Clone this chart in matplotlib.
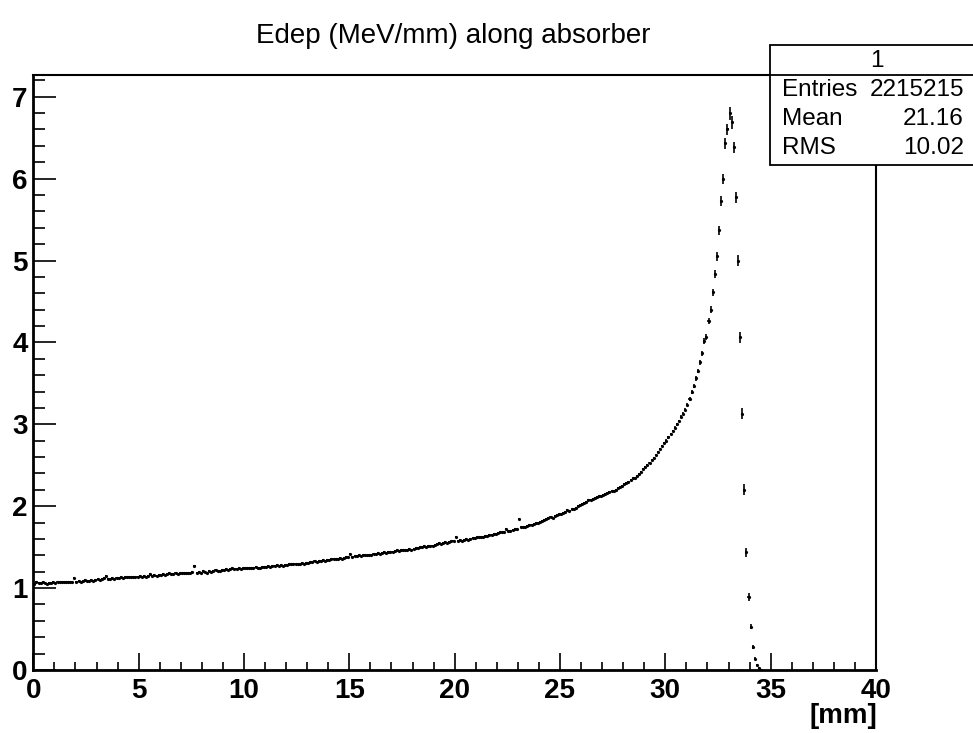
import numpy as np
import matplotlib.pyplot as plt
from matplotlib.patches import Rectangle
from matplotlib.ticker import MultipleLocator

plt.rcParams['font.family'] = ['Liberation Sans', 'DejaVu Sans']

# histogram: 400 bins of 0.1 mm from 0 to 40 mm, only non-empty bins listed
bin_width = 0.1
edep = [
    1.05, 1.07, 1.06, 1.06, 1.07, 1.06, 1.05, 1.06, 1.06, 1.07,
    1.06, 1.07, 1.07, 1.08, 1.07, 1.08, 1.07, 1.08, 1.08, 1.12,
    1.08, 1.09, 1.08, 1.09, 1.10, 1.09, 1.09, 1.10, 1.09, 1.10,
    1.11, 1.10, 1.11, 1.12, 1.15, 1.11, 1.11, 1.12, 1.11, 1.12,
    1.12, 1.13, 1.12, 1.13, 1.13, 1.14, 1.13, 1.14, 1.13, 1.14,
    1.15, 1.14, 1.15, 1.14, 1.15, 1.17, 1.15, 1.16, 1.15, 1.16,
    1.16, 1.17, 1.16, 1.17, 1.18, 1.17, 1.17, 1.18, 1.17, 1.18,
    1.18, 1.19, 1.18, 1.19, 1.19, 1.20, 1.27, 1.19, 1.20, 1.19,
    1.21, 1.20, 1.19, 1.21, 1.20, 1.21, 1.22, 1.21, 1.21, 1.22,
    1.22, 1.23, 1.22, 1.23, 1.24, 1.23, 1.23, 1.24, 1.23, 1.24,
    1.24, 1.25, 1.24, 1.25, 1.25, 1.26, 1.25, 1.25, 1.26, 1.26,
    1.26, 1.27, 1.26, 1.27, 1.27, 1.28, 1.27, 1.28, 1.27, 1.28,
    1.28, 1.29, 1.29, 1.30, 1.29, 1.30, 1.30, 1.31, 1.30, 1.31,
    1.31, 1.32, 1.32, 1.33, 1.32, 1.33, 1.33, 1.34, 1.33, 1.34,
    1.34, 1.35, 1.35, 1.36, 1.36, 1.37, 1.36, 1.37, 1.38, 1.38,
    1.42, 1.38, 1.39, 1.39, 1.40, 1.39, 1.40, 1.41, 1.40, 1.41,
    1.41, 1.42, 1.42, 1.43, 1.42, 1.43, 1.44, 1.43, 1.44, 1.44,
    1.44, 1.45, 1.46, 1.45, 1.46, 1.47, 1.46, 1.47, 1.48, 1.47,
    1.48, 1.49, 1.49, 1.50, 1.50, 1.51, 1.50, 1.51, 1.52, 1.52,
    1.53, 1.54, 1.55, 1.54, 1.55, 1.56, 1.55, 1.56, 1.57, 1.57,
    1.63, 1.58, 1.59, 1.58, 1.59, 1.60, 1.59, 1.60, 1.61, 1.61,
    1.62, 1.62, 1.63, 1.63, 1.64, 1.64, 1.65, 1.65, 1.66, 1.66,
    1.67, 1.68, 1.68, 1.69, 1.72, 1.70, 1.70, 1.71, 1.72, 1.72,
    1.84, 1.74, 1.75, 1.75, 1.76, 1.77, 1.77, 1.78, 1.79, 1.80,
    1.81, 1.82, 1.83, 1.84, 1.85, 1.87, 1.86, 1.88, 1.89, 1.90,
    1.91, 1.92, 1.93, 1.95, 1.94, 1.96, 1.97, 1.98, 2.00, 2.01,
    2.03, 2.04, 2.05, 2.07, 2.08, 2.09, 2.10, 2.11, 2.12, 2.13,
    2.14, 2.15, 2.16, 2.17, 2.18, 2.19, 2.20, 2.22, 2.23, 2.25,
    2.27, 2.28, 2.30, 2.32, 2.34, 2.35, 2.37, 2.39, 2.42, 2.45,
    2.48, 2.50, 2.53, 2.56, 2.59, 2.62, 2.66, 2.70, 2.74, 2.77,
    2.80, 2.84, 2.88, 2.92, 2.96, 3.00, 3.04, 3.09, 3.13, 3.18,
    3.24, 3.31, 3.39, 3.47, 3.56, 3.65, 3.76, 3.87, 4.02, 4.07,
    4.26, 4.40, 4.61, 4.84, 5.05, 5.37, 5.73, 6.00, 6.43, 6.60,
    6.80, 6.69, 6.38, 5.77, 5.00, 4.06, 3.13, 2.20, 1.44, 0.89,
    0.53, 0.28, 0.14, 0.06, 0.02, 0.005,
]
# error bars of the bins from 30.0 mm on; bins before use body_err
body_err = 0.010
peak_err = [
    0.015, 0.015, 0.016, 0.016, 0.017, 0.018, 0.018, 0.019, 0.020, 0.020,
    0.022, 0.023, 0.024, 0.025, 0.026, 0.028, 0.030, 0.030, 0.035, 0.035,
    0.040, 0.040, 0.045, 0.050, 0.050, 0.055, 0.060, 0.060, 0.070, 0.070,
    0.080, 0.080, 0.070, 0.070, 0.070, 0.070, 0.070, 0.065, 0.055, 0.045,
    0.035, 0.025, 0.020, 0.012, 0.008, 0.004,
]

n_entries = 2215215
mean_val = 21.16
rms_val = 10.02

y = np.array(edep)
x = (np.arange(len(y)) + 0.5) * bin_width
err = np.full(len(y), body_err)
err[len(y) - len(peak_err):] = peak_err

fig = plt.figure(figsize=(9.73, 7.33), dpi=100)
W, H = 973, 733
ax = fig.add_axes([33.3 / W, (H - 670) / H, (876 - 33.3) / W, (670 - 75) / H])

ax.errorbar(x, y, xerr=bin_width / 2, yerr=err, fmt='o', ms=2.3, mew=0,
            color='black', ecolor='black', elinewidth=1.2, capsize=0)

ax.set_xlim(0, 40)
ax.set_ylim(0, 7.265)
ax.xaxis.set_major_locator(MultipleLocator(5))
ax.xaxis.set_minor_locator(MultipleLocator(1))
ax.yaxis.set_major_locator(MultipleLocator(1))
ax.yaxis.set_minor_locator(MultipleLocator(0.2))

ax.tick_params(axis='x', which='major', direction='in', length=12.2, width=1.2, pad=6,
               labelsize=20, top=False)
ax.tick_params(axis='x', which='minor', direction='in', length=6, width=1.2, top=False)
ax.tick_params(axis='y', which='major', direction='in', length=16.6, width=1.2, pad=4,
               labelsize=20, right=False)
ax.tick_params(axis='y', which='minor', direction='in', length=8.6, width=1.2, right=False)
for lab in ax.get_xticklabels() + ax.get_yticklabels():
    lab.set_fontweight('bold')
for s in ax.spines.values():
    s.set_linewidth(1.5)
ax.spines['left'].set_linewidth(2)
ax.spines['bottom'].set_linewidth(2)

fig.text(453 / W, 1 - 36 / H, 'Edep (MeV/mm) along absorber', ha='center', va='center',
         fontsize=20)
fig.text(877 / W, 1 - 716 / H, '[mm]', ha='right', va='center', fontsize=20,
         fontweight='bold')

# stats box
box_l, box_t, box_b, box_r = 770, 45, 165, 984
fig.patches.append(Rectangle((box_l / W, 1 - box_b / H), (box_r - box_l) / W,
                             (box_b - box_t) / H, transform=fig.transFigure,
                             facecolor='white', edgecolor='black', lw=1.3, zorder=5))
fig.add_artist(plt.Line2D([box_l / W, 1], [1 - 75 / H, 1 - 75 / H],
                          transform=fig.transFigure, color='black', lw=1.3, zorder=6))
fig.text(877 / W, 1 - 61 / H, '1', ha='center', va='center',
         fontsize=17.5, zorder=7)
rows = [('Entries', f'{n_entries}'), ('Mean', f'{mean_val:.2f}'), ('RMS', f'{rms_val:.2f}')]
for k, (name, val) in enumerate(rows):
    yy = 1 - (90 + 29 * k) / H
    fig.text(782 / W, yy, name, ha='left', va='center', fontsize=17.5, zorder=7)
    fig.text(964 / W, yy, val, ha='right', va='center', fontsize=17.5, zorder=7)

fig.savefig('out.png', dpi=100)
